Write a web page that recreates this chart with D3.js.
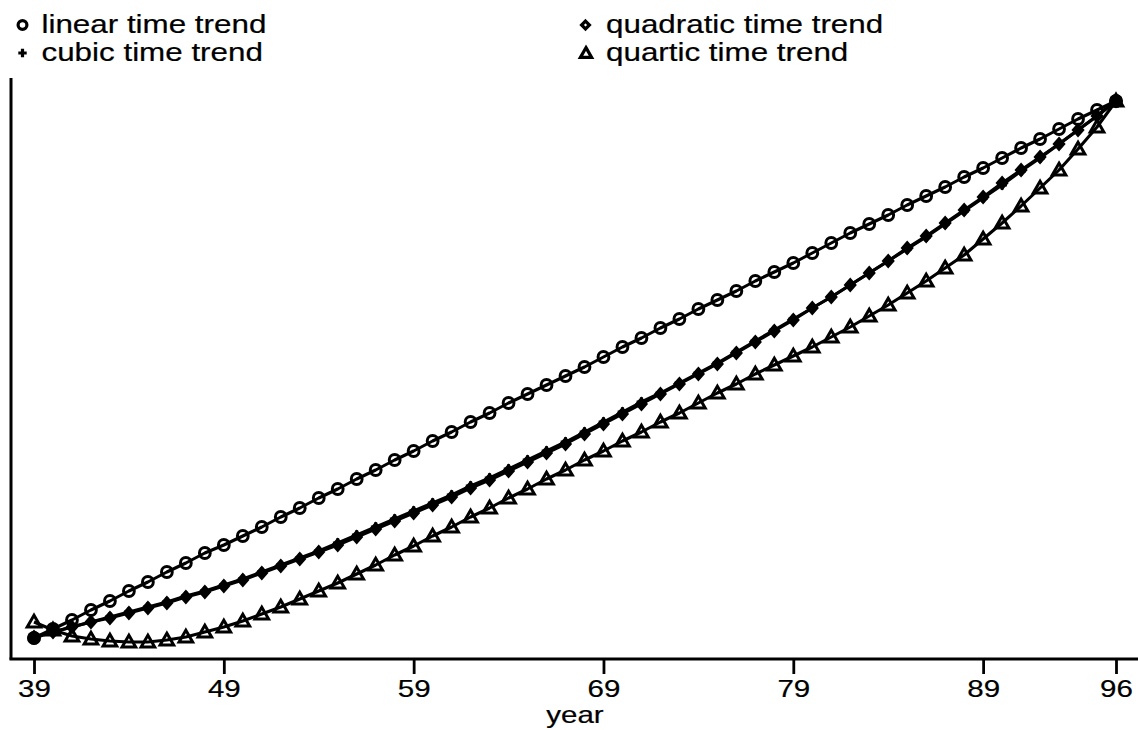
<!DOCTYPE html>
<html>
<head>
<meta charset="utf-8">
<script src="https://cdn.jsdelivr.net/npm/d3@7"></script>
<style>
  html, body { margin: 0; padding: 0; background: #fff; }
  svg { display: block; }
  text { font-family: "Liberation Sans", Arial, Helvetica, sans-serif; fill: #000; stroke: #000; stroke-width: 0.2px; }
</style>
</head>
<body>
<svg id="chart" width="1138" height="730"></svg>
<script>
// ---- data ----
const years = [39,40,41,42,43,44,45,46,47,48,49,50,51,52,53,54,55,56,57,58,59,60,61,62,63,64,65,66,67,68,69,70,71,72,73,74,75,76,77,78,79,80,81,82,83,84,85,86,87,88,89,90,91,92,93,94,95,96];
const linearTrend = [20,29,38,48,57,67,76,86,95,105,113,122,131,141,150,160,169,179,188,198,207,217,226,236,245,255,264,273,282,291,301,311,320,330,339,349,358,367,377,386,395,405,415,425,434,443,453,462,471,481,490,500,510,519,529,539,548,557];
const quadraticTrend = [21,26,31,36,40,45,50,55,61,66,72,78,85,92,99,106,113,121,129,137,145,153,161,170,178,187,196,205,214,224,234,244,254,264,274,284,294,305,316,327,338,350,361,373,385,397,410,422,435,448,461,475,488,501,514,528,542,557];
const cubicTrend = [20,26,31,36,41,46,51,56,62,67,73,79,86,93,100,107,115,123,131,139,147,155,163,172,180,189,198,207,216,226,236,246,256,265,275,285,295,306,317,328,339,350,361,373,385,397,409,421,434,447,460,473,487,500,514,528,542,557];
const quarticTrend = [36,28,22,19,17,16,16,18,21,26,31,37,44,51,59,67,75,84,93,103,112,122,131,141,150,160,169,179,188,198,207,217,226,236,245,255,265,274,284,293,302,311,321,331,342,353,365,377,390,403,419,435,452,470,488,509,531,557];
const endpointYears = [39, 96];
const endpointValues = [20, 557];
const tickYears = [39, 49, 59, 69, 79, 89, 96];
const legendLabels = ["linear time trend", "quadratic time trend", "cubic time trend", "quartic time trend"];
const xLabel = "year";

// ---- layout ----
const svg = d3.select("#chart");
const x = d3.scaleLinear().domain([39, 96]).range([34, 1116]);
const y = d3.scaleLinear().domain([0, 580]).range([658, 78]);
const SX = 1.23;

const sym = {
  circle: "M5.4,0A5.4,5.4 0 1,1 -5.4,0A5.4,5.4 0 1,1 5.4,0Z",
  diamond: "M0,-5.2L4.6,0L0,5.2L-4.6,0Z",
  plus: "M-4.8,0H4.8M0,-4.8V4.8",
  triangle: "M0,-6.8L6.8,5L-6.8,5Z"
};

const series = [
  { values: quarticTrend, shape: "triangle", fill: "none" },
  { values: quadraticTrend, shape: "diamond", fill: "#000" },
  { values: cubicTrend, shape: "plus", fill: "none" },
  { values: linearTrend, shape: "circle", fill: "none" }
];

const line = d3.line().x((d, i) => x(years[i])).y(d => y(d));

// lines
series.forEach(s => {
  svg.append("path")
    .datum(s.values)
    .attr("d", line)
    .attr("fill", "none")
    .attr("stroke", "#000")
    .attr("stroke-width", 3.1)
    .attr("stroke-linejoin", "round");
});

// markers
series.forEach(s => {
  svg.append("g").selectAll("path")
    .data(s.values)
    .join("path")
    .attr("transform", (d, i) => `translate(${x(years[i])},${y(d)})`)
    .attr("d", sym[s.shape])
    .attr("fill", s.fill)
    .attr("stroke", "#000")
    .attr("stroke-width", 3)
    .attr("stroke-linejoin", "miter");
});

// endpoint dots
svg.append("g").selectAll("circle")
  .data(endpointValues)
  .join("circle")
  .attr("cx", (d, i) => x(endpointYears[i]))
  .attr("cy", d => y(d))
  .attr("r", 6.8)
  .attr("fill", "#000");

// axes
svg.append("line")
  .attr("x1", 11).attr("x2", 11).attr("y1", 78).attr("y2", 659.5)
  .attr("stroke", "#000").attr("stroke-width", 3);
svg.append("line")
  .attr("x1", 9.5).attr("x2", 1138).attr("y1", 659).attr("y2", 659)
  .attr("stroke", "#000").attr("stroke-width", 3);

const xAxis = svg.append("g")
  .attr("transform", "translate(0,659)")
  .call(d3.axisBottom(x).tickValues(tickYears).tickFormat(d3.format("d")).tickSize(15).tickPadding(0));
xAxis.select(".domain").remove();
xAxis.selectAll(".tick line").attr("stroke", "#000").attr("stroke-width", 2.8);
xAxis.selectAll(".tick text")
  .attr("y", 0).attr("dy", null)
  .attr("transform", `translate(0,38) scale(${SX},1)`)
  .style("font-size", "24px")
  .style("font-family", "'Liberation Sans', Arial, sans-serif")
  .attr("fill", "#000");

svg.append("text")
  .attr("transform", `translate(575,723) scale(${SX},1)`)
  .attr("text-anchor", "middle")
  .style("font-size", "24px")
  .text(xLabel);

// legend
const legendItems = [
  { label: legendLabels[0], shape: "circle", fill: "none", mx: 22.5, tx: 41.5, ty: 33 },
  { label: legendLabels[1], shape: "diamond", fill: "none", mx: 585.5, tx: 606, ty: 33 },
  { label: legendLabels[2], shape: "plus", fill: "none", mx: 22.5, tx: 41.5, ty: 61 },
  { label: legendLabels[3], shape: "triangle", fill: "none", mx: 586, tx: 606, ty: 61 }
];
const legendSym = {
  circle: "M4.4,0A4.4,4.4 0 1,1 -4.4,0A4.4,4.4 0 1,1 4.4,0Z",
  diamond: "M0,-3.9L3.9,0L0,3.9L-3.9,0Z",
  plus: "M-4.2,0H4.2M0,-4.2V4.2",
  triangle: "M0,-5.4L5.6,4.4L-5.6,4.4Z"
};
const lg = svg.append("g");
legendItems.forEach(it => {
  lg.append("path")
    .attr("transform", `translate(${it.mx},${it.ty - 8})`)
    .attr("d", legendSym[it.shape])
    .attr("fill", it.fill)
    .attr("stroke", "#000")
    .attr("stroke-width", 3.2);
  lg.append("text")
    .attr("transform", `translate(${it.tx},${it.ty}) scale(${SX},1)`)
    .style("font-size", "25.5px")
    .text(it.label);
});
</script>
</body>
</html>
